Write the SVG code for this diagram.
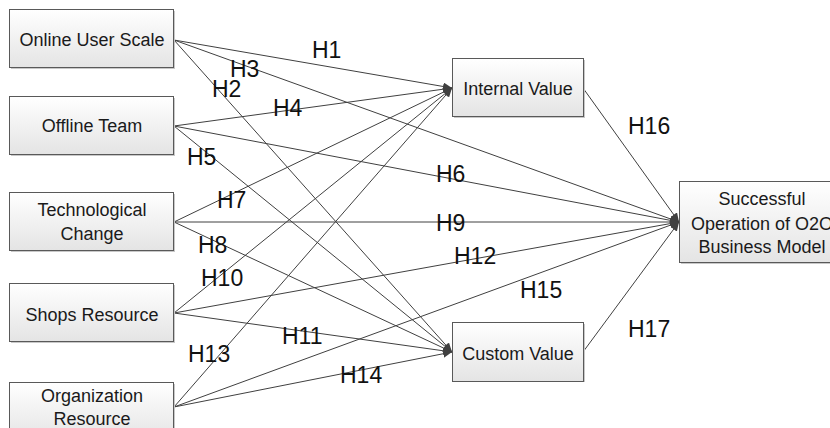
<svg xmlns="http://www.w3.org/2000/svg" width="830" height="428" viewBox="0 0 830 428">
<style>
.box{fill:url(#g);stroke:#595959;stroke-width:1}
.sh{fill:#c8c8c8}
.bt{font-family:"Liberation Sans",Arial,sans-serif;font-size:18px;fill:#1a1a1a;text-anchor:middle}
.lb{font-family:"Liberation Sans",Arial,sans-serif;font-size:23px;fill:#111}
.c line{stroke:#404040;stroke-width:1;marker-end:url(#a)}
</style>
<defs>
<linearGradient id="g" x1="0" y1="0" x2="0" y2="1">
<stop offset="0" stop-color="#ffffff"/>
<stop offset="1" stop-color="#e4e4e4"/>
</linearGradient>
<marker id="a" markerUnits="userSpaceOnUse" markerWidth="10" markerHeight="8" refX="9" refY="4" orient="auto">
<path d="M0,0 L9,4 L0,8 Z" fill="#404040"/>
</marker>
</defs>
<rect width="830" height="428" fill="#ffffff"/>
<g class="c">
<line x1="174" y1="40" x2="452" y2="88"/>
<line x1="174" y1="40" x2="452" y2="352"/>
<line x1="174" y1="40" x2="679" y2="222"/>
<line x1="174" y1="126" x2="452" y2="88"/>
<line x1="174" y1="126" x2="452" y2="352"/>
<line x1="174" y1="126" x2="679" y2="222"/>
<line x1="174" y1="222" x2="452" y2="88"/>
<line x1="174" y1="222" x2="452" y2="352"/>
<line x1="174" y1="222" x2="679" y2="222"/>
<line x1="174" y1="313" x2="452" y2="88"/>
<line x1="174" y1="313" x2="452" y2="352"/>
<line x1="174" y1="313" x2="679" y2="222"/>
<line x1="174" y1="407" x2="452" y2="88"/>
<line x1="174" y1="407" x2="452" y2="352"/>
<line x1="174" y1="407" x2="679" y2="222"/>
<line x1="583" y1="88" x2="679" y2="222"/>
<line x1="583" y1="352" x2="679" y2="222"/>
</g>
<g id="online"><rect class="sh" x="11" y="11" width="164" height="58"/><rect class="box" x="9.5" y="9.5" width="164" height="58"/><text class="bt" x="92" y="46">Online User Scale</text></g>
<g id="offline"><rect class="sh" x="11" y="98" width="164" height="58"/><rect class="box" x="9.5" y="96.5" width="164" height="58"/><text class="bt" x="92" y="132">Offline Team</text></g>
<g id="tech"><rect class="sh" x="11" y="194" width="164" height="58"/><rect class="box" x="9.5" y="192.5" width="164" height="58"/><text class="bt" x="92" y="216">Technological</text><text class="bt" x="92" y="240">Change</text></g>
<g id="shops"><rect class="sh" x="11" y="285" width="164" height="58"/><rect class="box" x="9.5" y="283.5" width="164" height="58"/><text class="bt" x="92" y="321">Shops Resource</text></g>
<g id="org"><rect class="sh" x="11" y="384" width="164" height="58"/><rect class="box" x="9.5" y="382.5" width="164" height="58"/><text class="bt" x="92" y="402">Organization</text><text class="bt" x="92" y="425">Resource</text></g>
<g id="internal"><rect class="sh" x="454" y="60" width="131" height="58"/><rect class="box" x="452.5" y="58.5" width="131" height="58"/><text class="bt" x="518" y="95">Internal Value</text></g>
<g id="custom"><rect class="sh" x="454" y="324" width="131" height="58"/><rect class="box" x="452.5" y="322.5" width="131" height="59"/><text class="bt" x="518" y="360">Custom Value</text></g>
<g id="success"><rect class="sh" x="681" y="183" width="166" height="81"/><rect class="box" x="679.5" y="181.5" width="166" height="81"/><text class="bt" x="762" y="205">Successful</text><text class="bt" x="762" y="230">Operation of O2O</text><text class="bt" x="762" y="253">Business Model</text></g>
<g id="labels">
<text class="lb" x="312" y="58">H1</text>
<text class="lb" x="212" y="97">H2</text>
<text class="lb" x="230" y="77">H3</text>
<text class="lb" x="273" y="116">H4</text>
<text class="lb" x="187" y="165">H5</text>
<text class="lb" x="436" y="182">H6</text>
<text class="lb" x="217" y="208">H7</text>
<text class="lb" x="198" y="253">H8</text>
<text class="lb" x="436" y="231">H9</text>
<text class="lb" x="201" y="286">H10</text>
<text class="lb" x="282" y="344">H11</text>
<text class="lb" x="454" y="264">H12</text>
<text class="lb" x="188" y="362">H13</text>
<text class="lb" x="340" y="383">H14</text>
<text class="lb" x="520" y="298">H15</text>
<text class="lb" x="628" y="134">H16</text>
<text class="lb" x="628" y="337">H17</text>
</g>
</svg>
